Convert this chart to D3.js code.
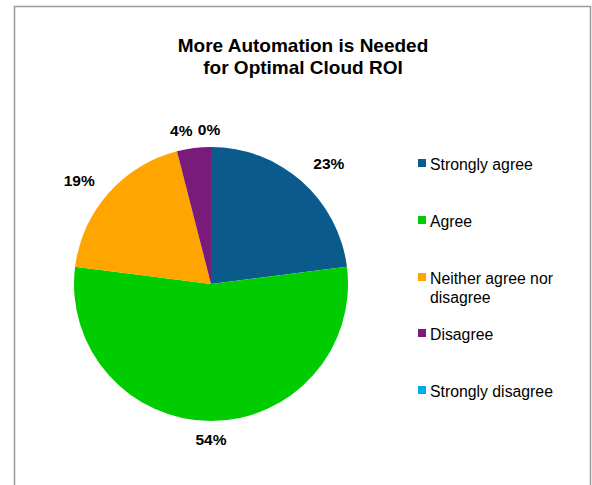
<!DOCTYPE html>
<html><head><meta charset="utf-8">
<script src="https://cdn.jsdelivr.net/npm/d3@7"></script>
<style>body{margin:0;background:#fff;}svg{display:block;}</style>
</head><body>
<svg id="c" width="592" height="485"></svg>
<script>
const categories = ["Strongly agree","Agree","Neither agree nor disagree","Disagree","Strongly disagree"];
const values = [23, 54, 19, 4, 0];
const colors = ["#0B5A8C","#00CC00","#FFA500","#7A1A7A","#00AAEE"];
const legendLines = [["Strongly agree"],["Agree"],["Neither agree nor","disagree"],["Disagree"],["Strongly disagree"]];
const titleLines = ["More Automation is Needed","for Optimal Cloud ROI"];

const svg = d3.select("#c");
const font = "Liberation Sans, Arial, sans-serif";

// frame
svg.append("path").attr("d","M14.5,490 V6.5 H590.5 V490").attr("fill","none").attr("stroke","#999").attr("stroke-width",1.5);

// title
svg.append("text").attr("x",303).attr("y",52).attr("text-anchor","middle")
  .attr("font-family",font).attr("font-weight","bold").attr("font-size",19).attr("fill","#000")
  .selectAll("tspan").data(titleLines).join("tspan").attr("x",303).attr("dy",(d,i)=>i?22:0).text(d=>d);

const cx=211, cy=284, r=137;
const pie = d3.pie().sort(null).value(d=>d)(values);
const arc = d3.arc().innerRadius(0).outerRadius(r);
const g = svg.append("g").attr("transform",`translate(${cx},${cy})`);
g.selectAll("path").data(pie).join("path").attr("d",arc).attr("fill",(d,i)=>colors[i]);

// labels
const labelArc = d3.arc().innerRadius(r+20).outerRadius(r+20);
const labelOffsets = [[14,-3],[0,-1],[-14,0],[-10,2],[-2,3]];
g.selectAll("text.lab").data(pie).join("text").attr("class","lab")
  .attr("transform",(d,i)=>{const p=labelArc.centroid(d);return `translate(${p[0]+labelOffsets[i][0]},${p[1]+labelOffsets[i][1]})`;})
  .attr("text-anchor","middle").attr("dy","0.35em")
  .attr("font-family",font).attr("font-weight","bold").attr("font-size",15.5).attr("fill","#000")
  .text((d,i)=>values[i]+"%");

// legend
const legendY = [163, 220, 277, 333, 390];
const lg = svg.append("g");
categories.forEach((c,i)=>{
  lg.append("rect").attr("x",418).attr("y",legendY[i]-4).attr("width",8).attr("height",8).attr("fill",colors[i]);
  lg.append("text").attr("x",430).attr("y",legendY[i]+7).attr("font-family",font).attr("font-size",15.8).attr("fill","#000")
    .selectAll("tspan").data(legendLines[i]).join("tspan").attr("x",430).attr("dy",(d,j)=>j?19:0).text(d=>d);
});
</script>
</body></html>
